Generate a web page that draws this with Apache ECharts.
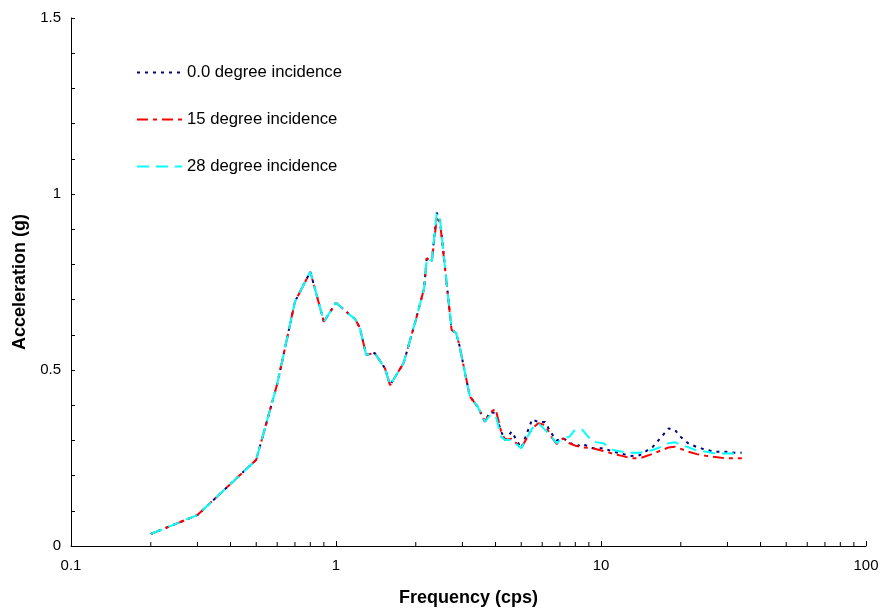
<!DOCTYPE html>
<html>
<head>
<meta charset="UTF-8">
<title>Acceleration spectrum</title>
<script src="https://cdn.jsdelivr.net/npm/echarts@6/dist/echarts.min.js"></script>
<style>
  html, body { margin: 0; padding: 0; background: #fff; }
  #main { width: 882px; height: 612px; }
</style>
</head>
<body>
<div id="main"></div>
<script>
// frequencies (cps)
const freq = [0.2, 0.3, 0.5, 0.6, 0.7, 0.8, 0.9, 1.0, 1.13, 1.18, 1.23, 1.3, 1.4, 1.53, 1.6, 1.8,
  2.0, 2.15, 2.2, 2.3, 2.4, 2.47, 2.73, 2.84, 2.92, 3.2, 3.43, 3.65, 3.8, 4.0, 4.2, 4.35, 4.6,
  5.0, 5.5, 5.8, 6.15, 6.5, 6.8, 7.2, 7.6, 8.0, 8.5, 9.3, 10.2, 11.1, 12.0, 13.0, 14.0, 15.7,
  16.9, 18.0, 19.0, 20.0, 21.3, 23, 25, 27, 29.5, 32, 34];

// acceleration (g)
const acc0 = [0.034, 0.088, 0.245, 0.46, 0.694, 0.779, 0.637, 0.691, 0.656, 0.645, 0.62, 0.543, 0.548, 0.505, 0.457, 0.52,
  0.642, 0.732, 0.817, 0.81, 0.947, 0.926, 0.614, 0.605, 0.571, 0.425, 0.395, 0.353, 0.38, 0.378, 0.325, 0.301, 0.325,
  0.278, 0.36, 0.352, 0.352, 0.32, 0.30, 0.306, 0.295, 0.282, 0.29, 0.278, 0.278, 0.268, 0.262, 0.256, 0.258, 0.282,
  0.31, 0.334, 0.33, 0.31, 0.292, 0.281, 0.273, 0.268, 0.268, 0.265, 0.265];
const acc15 = [0.034, 0.088, 0.245, 0.46, 0.694, 0.779, 0.637, 0.691, 0.656, 0.645, 0.62, 0.543, 0.548, 0.505, 0.457, 0.52,
  0.642, 0.732, 0.817, 0.81, 0.93, 0.92, 0.614, 0.605, 0.571, 0.425, 0.395, 0.353, 0.378, 0.39, 0.325, 0.301, 0.305,
  0.278, 0.334, 0.349, 0.344, 0.31, 0.29, 0.306, 0.292, 0.285, 0.28, 0.278, 0.27, 0.262, 0.256, 0.249, 0.249, 0.262,
  0.272, 0.28, 0.282, 0.276, 0.268, 0.261, 0.256, 0.253, 0.249, 0.249, 0.249];
const acc28 = [0.034, 0.088, 0.245, 0.46, 0.694, 0.779, 0.637, 0.691, 0.656, 0.645, 0.62, 0.543, 0.548, 0.505, 0.457, 0.52,
  0.642, 0.732, 0.817, 0.81, 0.947, 0.926, 0.614, 0.605, 0.571, 0.425, 0.395, 0.353, 0.37, 0.372, 0.31, 0.301, 0.301,
  0.278, 0.334, 0.349, 0.33, 0.31, 0.292, 0.306, 0.31, 0.332, 0.33, 0.296, 0.292, 0.273, 0.268, 0.265, 0.265, 0.273,
  0.282, 0.292, 0.295, 0.287, 0.281, 0.271, 0.268, 0.263, 0.263, 0.263, 0.263];

const seriesNames = ['0.0 degree incidence', '15 degree incidence', '28 degree incidence'];
const minorX = [0.2, 0.3, 0.4, 0.5, 0.6, 0.7, 0.8, 0.9, 2, 3, 4, 5, 6, 7, 8, 9,
  20, 30, 40, 50, 60, 70, 80, 90];

const font = 'Liberation Sans, Arial, sans-serif';
const toPairs = vals => freq.map((f, i) => [f, vals[i]]);

const chart = echarts.init(document.getElementById('main'));

chart.setOption({
  backgroundColor: '#fff',
  animation: false,
  grid: { left: 71, right: 16, top: 18, bottom: 66 },
  legend: {
    data: seriesNames,
    orient: 'vertical',
    left: 131,
    top: 59,
    itemWidth: 45,
    itemHeight: 14,
    itemGap: 30,
    itemStyle: { opacity: 0 },
    textStyle: { fontFamily: font, fontSize: 16.7, color: '#000' }
  },
  xAxis: {
    type: 'log',
    logBase: 10,
    min: 0.1,
    max: 100,
    name: 'Frequency (cps)',
    nameLocation: 'middle',
    nameGap: 43,
    nameTextStyle: { fontFamily: font, fontSize: 18, fontWeight: 'bold', color: '#000' },
    axisLine: { lineStyle: { color: '#000', width: 1 } },
    axisTick: { inside: true, length: 5, lineStyle: { color: '#000' } },
    axisLabel: { fontFamily: font, fontSize: 15, color: '#000', margin: 12 },
    splitLine: { show: false }
  },
  yAxis: {
    type: 'value',
    min: 0,
    max: 1.5,
    interval: 0.5,
    name: 'Acceleration (g)',
    nameLocation: 'middle',
    nameGap: 42,
    nameTextStyle: { fontFamily: font, fontSize: 18, fontWeight: 'bold', color: '#000' },
    axisLine: { show: true, lineStyle: { color: '#000', width: 1 } },
    axisTick: { show: true, inside: true, length: 4, lineStyle: { color: '#000' } },
    minorTick: { show: true, splitNumber: 5, length: 4, lineStyle: { color: '#000' } },
    axisLabel: { fontFamily: font, fontSize: 15, color: '#000', margin: 10 },
    splitLine: { show: false }
  },
  series: [
    {
      name: seriesNames[0],
      type: 'line',
      symbol: 'none',
      lineStyle: { color: '#000080', width: 2, type: [3, 5] },
      itemStyle: { color: '#000080' },
      data: toPairs(acc0)
    },
    {
      name: seriesNames[1],
      type: 'line',
      symbol: 'none',
      lineStyle: { color: '#ff0000', width: 2, type: [11, 5, 4, 5] },
      itemStyle: { color: '#ff0000' },
      data: toPairs(acc15)
    },
    {
      name: seriesNames[2],
      type: 'line',
      symbol: 'none',
      lineStyle: { color: '#00ffff', width: 2, type: [12, 7] },
      itemStyle: { color: '#00ffff' },
      data: toPairs(acc28)
    },
    {
      // minor ticks of the log axis
      type: 'custom',
      silent: true,
      clip: false,
      data: minorX.map(v => [v, 0]),
      renderItem: function (params, api) {
        const p = api.coord([api.value(0), 0]);
        return {
          type: 'line',
          shape: { x1: p[0], y1: p[1], x2: p[0], y2: p[1] - 4 },
          style: { stroke: '#000', lineWidth: 1 }
        };
      }
    }
  ]
});

window.addEventListener('resize', function () { chart.resize(); });
</script>
</body>
</html>
